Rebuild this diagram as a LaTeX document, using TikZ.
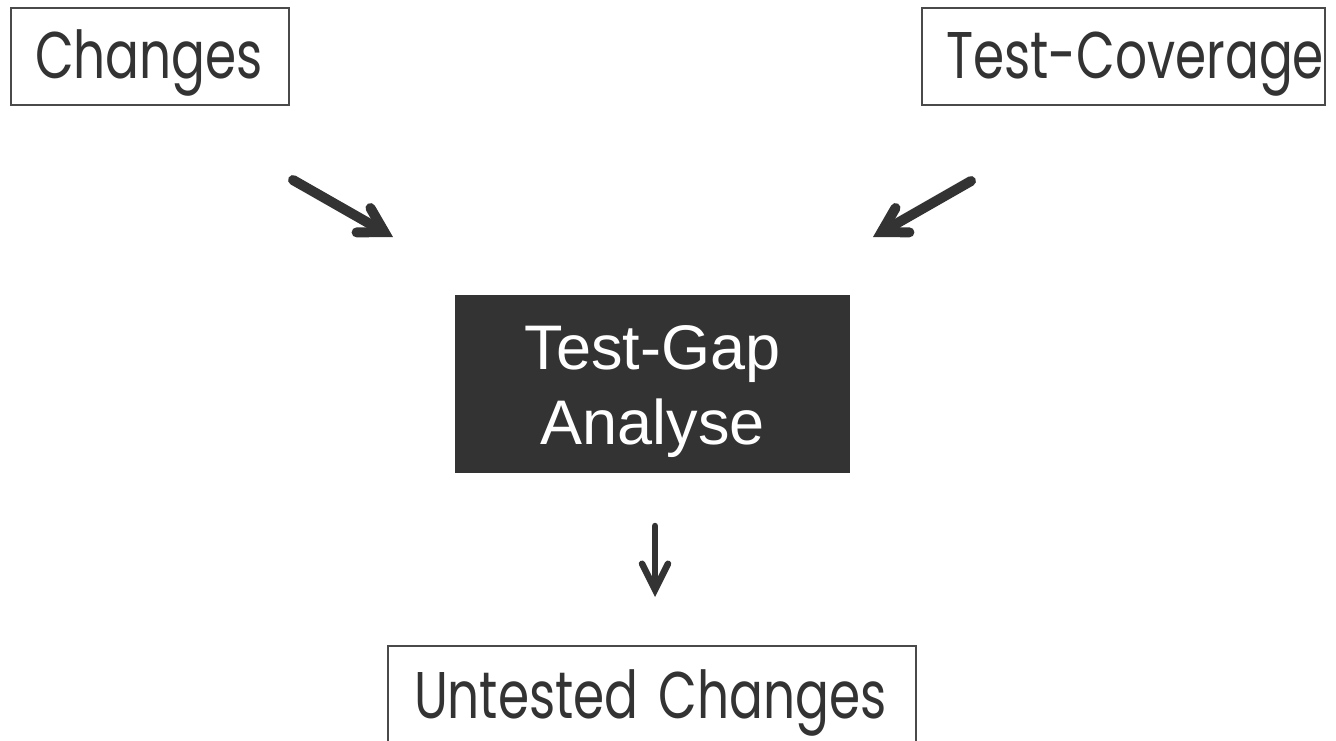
\documentclass[tikz,border=0pt]{standalone}
\usepackage{fontspec}
\setmainfont{Liberation Sans}
\newfontfamily\geofont[FakeStretch=0.76]{Poppins}
\usetikzlibrary{arrows.meta}
\definecolor{ink}{HTML}{333333}
\definecolor{frame}{HTML}{4A4A4A}
\tikzset{
  x=1pt, y=-1pt,
  whitebox/.style={draw=frame, line width=1.8pt, fill=white,
    inner xsep=24pt, inner ysep=0pt, align=left,
    text=ink, font=\geofont\fontsize{66}{76}\selectfont,
    text height=50pt, text depth=7pt},
  darkbox/.style={fill=ink, inner sep=0pt},
  darktext/.style={text=white, align=center, font=\fontsize{63}{75}\selectfont},
  bigarrow/.style={draw=ink, line width=10pt, line cap=round,
    -{Straight Barb[length=24pt, width=28pt, line join=miter, line cap=round]}},
  smallarrow/.style={draw=ink, line width=6.5pt, line cap=round,
    -{Straight Barb[length=26pt, width=26pt, line join=miter, line cap=round]}}
}
\begin{document}
\begin{tikzpicture}
\useasboundingbox (0,0) rectangle (1336,740);
\clip (0,0) rectangle (1336,740);
\node[whitebox, text width=230pt, minimum height=97pt] (chg) at (150,56.5) {\mbox{Changes}};
\node[whitebox, text width=355pt, minimum height=97pt] (cov) at (1123.5,56.5) {\mbox{Test-Coverage}};
\node[darkbox, minimum width=395pt, minimum height=178pt,
  label={[darktext, yshift=-8pt]center:{Test-Gap\\Analyse}}] (tga) at (652.5,384) {};
\node[whitebox, text width=476pt, inner xsep=26pt, minimum height=150pt, anchor=north,
  text height=50pt, text depth=54pt] (unt) at (652,645) {\mbox{Untested\hspace{0.3em}Changes}};
\coordinate (a1s) at (293,180);
\coordinate (a1e) at (393,237);
\coordinate (a2s) at (971,181);
\coordinate (a2e) at (873,237);
\coordinate (a3s) at (655,526);
\coordinate (a3e) at (655,597);
\draw[bigarrow] (a1s) -- (a1e);
\draw[bigarrow] (a2s) -- (a2e);
\draw[smallarrow] (a3s) -- (a3e);
\end{tikzpicture}
\end{document}
